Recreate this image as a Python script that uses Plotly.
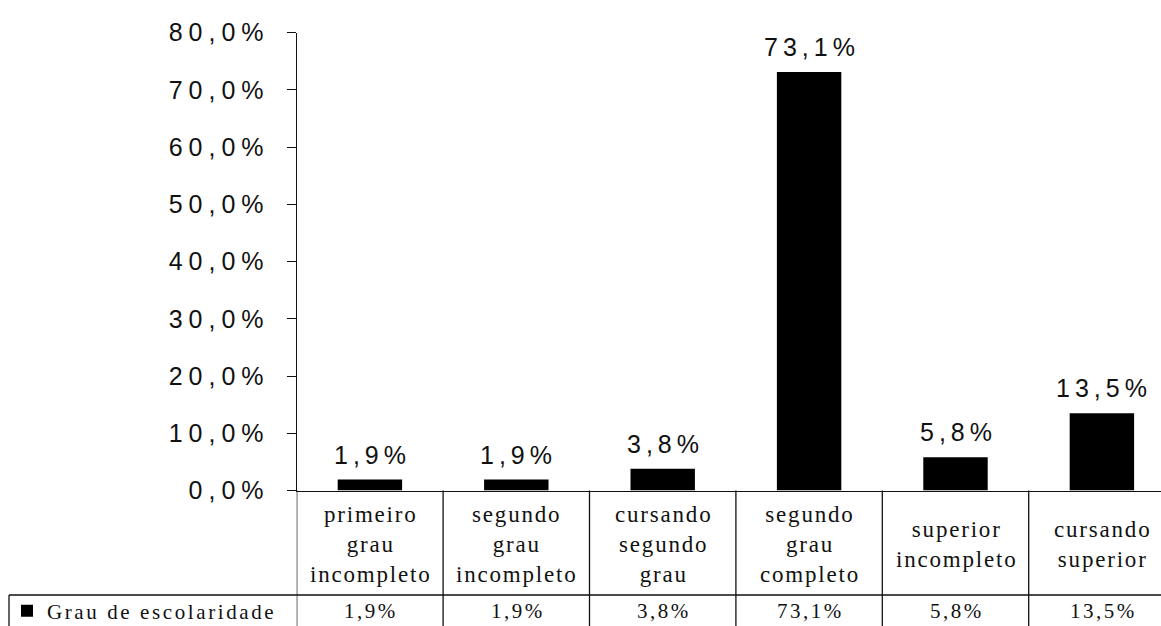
import plotly.graph_objects as go

# ---- data ----
categories = [
    "primeiro<br>grau<br>incompleto",
    "segundo<br>grau<br>incompleto",
    "cursando<br>segundo<br>grau",
    "segundo<br>grau<br>completo",
    "superior<br>incompleto",
    "cursando<br>superior",
]
values = [1.9, 1.9, 3.8, 73.1, 5.8, 13.5]
series_name = "Grau de escolaridade"
y_ticks = [0, 10, 20, 30, 40, 50, 60, 70, 80]


def pct(v):
    return f"{v:.1f}%".replace(".", ",")


def spaced(s, px):
    # widen text a little (reference text is horizontally stretched)
    return f'<span style="letter-spacing:{px}px">{s[:-1]}</span>{s[-1]}'


def spaced_lines(s, px):
    return "<br>".join(spaced(part, px) for part in s.split("<br>"))


W, H = 1161, 626
x_left_px = 296.7
cat_w_px = 146.4
y0_px, y80_px = 490.5, 32.5
row2_top_px = 595
legend_left_px = 9

sans = "Liberation Sans"
serif = "Liberation Serif"
ink = "#111111"
lw = 1.3

xs = list(range(len(categories)))

fig = go.Figure()
fig.add_trace(go.Bar(
    x=xs, y=values, name=spaced(series_name, 2.6),
    marker=dict(color="black", line=dict(width=0)),
    showlegend=True,
))

# data labels above bars
for x, v in zip(xs, values):
    fig.add_annotation(
        x=x, y=v, xref="x", yref="y", text=spaced(pct(v), 5),
        showarrow=False, yanchor="bottom", yshift=9,
        font=dict(family=sans, size=25, color=ink),
    )

# data table: header row (categories) and value row
hdr_center = (H - (y0_px + row2_top_px) / 2 - 2) / H
val_center = (H - 611) / H
for x, c, v in zip(xs, categories, values):
    fig.add_annotation(
        x=x, y=hdr_center, xref="x", yref="paper", text=spaced_lines(c, 1.8),
        showarrow=False, yanchor="middle",
        font=dict(family=serif, size=23, color=ink),
    )
    fig.add_annotation(
        x=x, y=val_center, xref="x", yref="paper", text=spaced(pct(v), 2.5),
        showarrow=False, yanchor="middle",
        font=dict(family=serif, size=21, color=ink),
    )

y_axis_bottom = (H - y0_px) / H
row2_top = (H - row2_top_px) / H
# vertical grid lines of the table at category boundaries
for k in range(len(categories) + 1):
    fig.add_shape(type="line", xref="x", yref="paper",
                  x0=k - 0.5, x1=k - 0.5, y0=0, y1=y_axis_bottom,
                  line=dict(color=ink, width=lw))
# horizontal line between header and value row
fig.add_shape(type="line", xref="paper", yref="paper",
              x0=legend_left_px / W, x1=1, y0=row2_top, y1=row2_top,
              line=dict(color=ink, width=lw))
# left border of value row
fig.add_shape(type="line", xref="paper", yref="paper",
              x0=legend_left_px / W, x1=legend_left_px / W, y0=0, y1=row2_top,
              line=dict(color=ink, width=lw))

x_right = -0.5 + (W - x_left_px) / cat_w_px

fig.update_layout(
    width=W, height=H,
    margin=dict(l=0, r=0, t=0, b=0, autoexpand=False),
    paper_bgcolor="white", plot_bgcolor="white",
    bargap=0.56,
    showlegend=True,
    legend=dict(
        x=(legend_left_px - 2) / W, xanchor="left",
        y=val_center, yanchor="middle",
        bgcolor="rgba(0,0,0,0)",
        font=dict(family=serif, size=21, color=ink),
    ),
    xaxis=dict(
        domain=[x_left_px / W, 1],
        range=[-0.5, x_right],
        showticklabels=False, ticks="", showgrid=False, zeroline=False,
        showline=True, linecolor=ink, linewidth=lw,
        fixedrange=True, automargin=False,
    ),
    yaxis=dict(
        domain=[y_axis_bottom, (H - y80_px) / H],
        range=[0, 80],
        tickvals=y_ticks,
        ticktext=[spaced(pct(t), 6) for t in y_ticks],
        ticks="outside", ticklen=9, tickwidth=lw, tickcolor=ink,
        showline=True, linecolor=ink, linewidth=lw,
        showgrid=False, zeroline=False,
        tickfont=dict(family=sans, size=25, color=ink),
        ticklabelstandoff=18, automargin=False,
    ),
)

fig.write_html("out.html")
